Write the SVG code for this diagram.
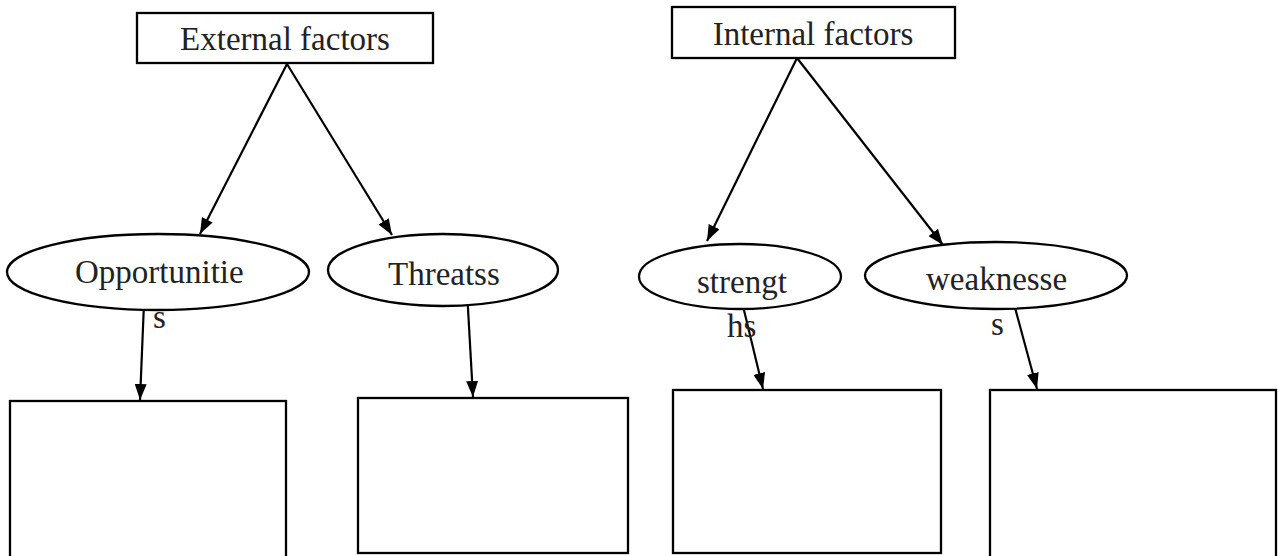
<svg xmlns="http://www.w3.org/2000/svg" width="1278" height="556" viewBox="0 0 1278 556">
<style>
.box{fill:#fff;stroke:#000;stroke-width:2.3}
.lbl{font-family:"Liberation Serif","Times New Roman",serif;font-size:33px;fill:#222}
.conn{stroke:#000;stroke-width:2.2;fill:none;marker-end:url(#arr)}
</style>
<defs>
<marker id="arr" viewBox="0 0 16 12" refX="16" refY="6" markerWidth="16" markerHeight="12" markerUnits="userSpaceOnUse" orient="auto">
<path d="M0,0 L16,6 L0,12 Z" fill="#000"/>
</marker>
</defs>
<rect width="1278" height="556" fill="#fff"/>
<g id="connectors">
<line class="conn" x1="287" y1="64" x2="200" y2="234"/>
<line class="conn" x1="287" y1="64" x2="392" y2="235"/>
<line class="conn" x1="797" y1="58" x2="707" y2="241"/>
<line class="conn" x1="797" y1="58" x2="943" y2="245"/>
<line class="conn" x1="144" y1="303" x2="140" y2="400"/>
<line class="conn" x1="467" y1="291" x2="473" y2="397"/>
<line class="conn" x1="743" y1="306" x2="763" y2="389"/>
<line class="conn" x1="1014" y1="304" x2="1037" y2="389"/>
</g>
<g id="external">
<rect class="box" x="137" y="13" width="296" height="50"/>
<text class="lbl" x="285" y="50" text-anchor="middle">External factors</text>
</g>
<g id="internal">
<rect class="box" x="672" y="7" width="283" height="51"/>
<text class="lbl" x="813" y="45" text-anchor="middle">Internal factors</text>
</g>
<g id="opportunities">
<ellipse class="box" cx="158" cy="272" rx="151" ry="38" fill="none"/>
<text class="lbl" x="75" y="283">Opportunitie</text>
<text class="lbl" x="153" y="328">s</text>
</g>
<g id="threats">
<ellipse class="box" cx="443" cy="270" rx="115" ry="36" fill="none"/>
<text class="lbl" x="388" y="285">Threatss</text>
</g>
<g id="strengths">
<ellipse class="box" cx="740" cy="276.5" rx="101" ry="32.5" fill="none"/>
<text class="lbl" x="697" y="293">strengt</text>
<text class="lbl" x="727" y="337">hs</text>
</g>
<g id="weaknesses">
<ellipse class="box" cx="996" cy="275.5" rx="131" ry="33.5" fill="none"/>
<text class="lbl" x="926" y="290">weaknesse</text>
<text class="lbl" x="991" y="335">s</text>
</g>
<g id="box-opportunities"><rect class="box" x="10" y="401" width="276" height="160"/></g>
<g id="box-threats"><rect class="box" x="358" y="398" width="270" height="155"/></g>
<g id="box-strengths"><rect class="box" x="673" y="390" width="268" height="163"/></g>
<g id="box-weaknesses"><rect class="box" x="990" y="390" width="286" height="170"/></g>
</svg>
